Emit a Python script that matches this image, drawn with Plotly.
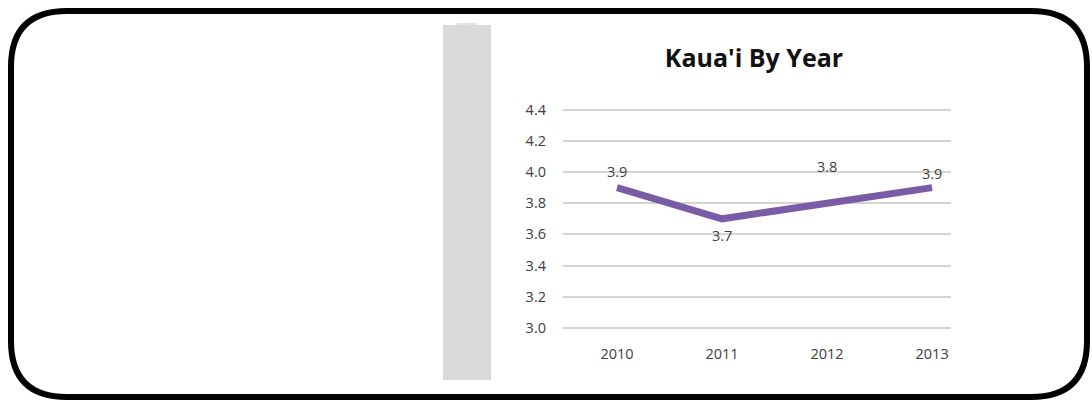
import plotly.graph_objects as go

# Chart data
years = [2010, 2011, 2012, 2013]
values = [3.9, 3.7, 3.8, 3.9]
label_offsets = [-16, 17, -37, -14]   # pixel offset of each value label from its point
y_ticks = [3.0, 3.2, 3.4, 3.6, 3.8, 4.0, 4.2, 4.4]

W, H = 1092, 401
LINE_COLOR = "#7A5BA6"
FONT = "Open Sans, Lato, sans-serif"
TEXT_SIZE = 14.5


def px(x):
    return x / W


def py(y):
    return 1 - y / H


fig = go.Figure()
fig.add_trace(go.Scatter(
    x=years, y=values, mode="lines",
    line=dict(color=LINE_COLOR, width=7),
    hoverinfo="x+y", showlegend=False,
))

for yr, v, off in zip(years, values, label_offsets):
    fig.add_annotation(
        x=yr, y=v, text=f"{v:.1f}", showarrow=False, yshift=-off,
        font=dict(family=FONT, size=TEXT_SIZE, color="#404040"),
    )

# Frame: rounded rectangle around the whole graphic
l, t, r, b, rad = 11, 11, 1087, 397, 56
path = (
    f"M {px(l + rad)},{py(t)} L {px(r - rad)},{py(t)} "
    f"Q {px(r)},{py(t)} {px(r)},{py(t + rad)} "
    f"L {px(r)},{py(b - rad)} "
    f"Q {px(r)},{py(b)} {px(r - rad)},{py(b)} "
    f"L {px(l + rad)},{py(b)} "
    f"Q {px(l)},{py(b)} {px(l)},{py(b - rad)} "
    f"L {px(l)},{py(t + rad)} "
    f"Q {px(l)},{py(t)} {px(l + rad)},{py(t)} Z"
)
shapes = [
    dict(type="rect", xref="paper", yref="paper",
         x0=px(443), x1=px(491), y0=py(380), y1=py(25),
         fillcolor="#D9D9D9", line=dict(width=0), layer="below"),
    dict(type="rect", xref="paper", yref="paper",
         x0=px(457), x1=px(477), y0=py(25), y1=py(23),
         fillcolor="#E2E2E2", line=dict(width=0), layer="below"),
    dict(type="path", xref="paper", yref="paper", path=path,
         line=dict(color="black", width=6)),
]

# Axis geometry
y_lo, y_hi = 2.98, 4.42
y_px_per_unit = 156.0
y_bottom_px = 328 + (3.0 - y_lo) * y_px_per_unit
y_top_px = 328 - (y_hi - 3.0) * y_px_per_unit

fig.update_layout(
    width=W, height=H,
    margin=dict(l=0, r=0, t=0, b=0, pad=0, autoexpand=False),
    paper_bgcolor="white", plot_bgcolor="white",
    shapes=shapes,
    title=dict(text="<b>Kaua'i By Year</b>", x=px(754), xanchor="center",
               y=py(58), yanchor="middle", automargin=False,
               font=dict(family=FONT, size=25, color="#111111")),
    xaxis=dict(
        domain=[px(563), px(951)],
        range=[2009.486, 2013.18],
        tickmode="array", tickvals=years, ticktext=[str(y) for y in years],
        showgrid=False, zeroline=False, showline=False, automargin=False,
        ticks="", ticklabelstandoff=12,
        tickfont=dict(family=FONT, size=TEXT_SIZE, color="#404040"),
        fixedrange=True,
    ),
    yaxis=dict(
        domain=[py(y_bottom_px), py(y_top_px)],
        range=[y_lo, y_hi],
        tickmode="array", tickvals=y_ticks,
        ticktext=[f"{v:.1f}" for v in y_ticks],
        showgrid=True, gridcolor="#D4D4D4", gridwidth=1.5,
        zeroline=False, showline=False, automargin=False,
        ticks="", ticklabelstandoff=16,
        tickfont=dict(family=FONT, size=TEXT_SIZE, color="#404040"),
        fixedrange=True,
    ),
)

fig.write_html("out.html")
